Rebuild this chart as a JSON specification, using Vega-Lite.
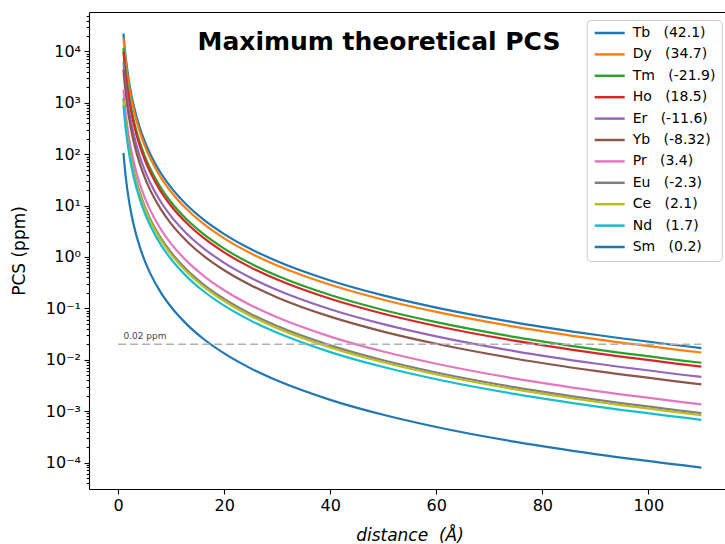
{
"$schema":"https://vega.github.io/schema/vega-lite/v6.json",
"width":636,"height":477,
"autosize":{"type":"none"},
"padding":{"left":89,"top":12,"right":0,"bottom":55},
"background":"white",
"title":{"text":"Maximum theoretical PCS","font":"DejaVu Sans","fontSize":25,"fontWeight":"bold","color":"#000","anchor":"middle","frame":"group","baseline":"alphabetic","offset":0,"dx":-28,"dy":67},
"datasets":{
"labels":[
{"e":"Tb","lab":"Tb\u00a0\u00a0\u00a0(42.1)"},{"e":"Dy","lab":"Dy\u00a0\u00a0\u00a0(34.7)"},{"e":"Tm","lab":"Tm\u00a0\u00a0\u00a0(-21.9)"},{"e":"Ho","lab":"Ho\u00a0\u00a0\u00a0(18.5)"},{"e":"Er","lab":"Er\u00a0\u00a0\u00a0(-11.6)"},{"e":"Yb","lab":"Yb\u00a0\u00a0\u00a0(-8.32)"},{"e":"Pr","lab":"Pr\u00a0\u00a0\u00a0(3.4)"},{"e":"Eu","lab":"Eu\u00a0\u00a0\u00a0(-2.3)"},{"e":"Ce","lab":"Ce\u00a0\u00a0\u00a0(2.1)"},{"e":"Nd","lab":"Nd\u00a0\u00a0\u00a0(1.7)"},{"e":"Sm","lab":"Sm\u00a0\u00a0\u00a0(0.2)"}
],
"pcs":[
{"e":"Tb","d":1,"v":22335},{"e":"Tb","d":1.25,"v":11436},{"e":"Tb","d":1.5,"v":6618},{"e":"Tb","d":2,"v":2792},{"e":"Tb","d":2.5,"v":1429.4},{"e":"Tb","d":3,"v":827.2},{"e":"Tb","d":4,"v":349.0},{"e":"Tb","d":5,"v":178.7},{"e":"Tb","d":6,"v":103.4},{"e":"Tb","d":8,"v":43.62},{"e":"Tb","d":10,"v":22.33},{"e":"Tb","d":13,"v":10.166},{"e":"Tb","d":16,"v":5.453},{"e":"Tb","d":20,"v":2.792},{"e":"Tb","d":25,"v":1.4294},{"e":"Tb","d":30,"v":0.8272},{"e":"Tb","d":40,"v":0.349},{"e":"Tb","d":50,"v":0.1787},{"e":"Tb","d":60,"v":0.1034},{"e":"Tb","d":75,"v":0.05294},{"e":"Tb","d":90,"v":0.03064},{"e":"Tb","d":110,"v":0.01678},
{"e":"Dy","d":1,"v":18409},{"e":"Dy","d":1.25,"v":9425},{"e":"Dy","d":1.5,"v":5454.5},{"e":"Dy","d":2,"v":2301},{"e":"Dy","d":2.5,"v":1178.2},{"e":"Dy","d":3,"v":681.8},{"e":"Dy","d":4,"v":287.6},{"e":"Dy","d":5,"v":147.27},{"e":"Dy","d":6,"v":85.23},{"e":"Dy","d":8,"v":35.95},{"e":"Dy","d":10,"v":18.41},{"e":"Dy","d":13,"v":8.379},{"e":"Dy","d":16,"v":4.494},{"e":"Dy","d":20,"v":2.301},{"e":"Dy","d":25,"v":1.1782},{"e":"Dy","d":30,"v":0.6818},{"e":"Dy","d":40,"v":0.2876},{"e":"Dy","d":50,"v":0.14727},{"e":"Dy","d":60,"v":0.08523},{"e":"Dy","d":75,"v":0.04364},{"e":"Dy","d":90,"v":0.02525},{"e":"Dy","d":110,"v":0.01383},
{"e":"Tm","d":1,"v":11618},{"e":"Tm","d":1.25,"v":5948},{"e":"Tm","d":1.5,"v":3442},{"e":"Tm","d":2,"v":1452.3},{"e":"Tm","d":2.5,"v":743.6},{"e":"Tm","d":3,"v":430.3},{"e":"Tm","d":4,"v":181.5},{"e":"Tm","d":5,"v":92.94},{"e":"Tm","d":6,"v":53.79},{"e":"Tm","d":8,"v":22.69},{"e":"Tm","d":10,"v":11.62},{"e":"Tm","d":13,"v":5.288},{"e":"Tm","d":16,"v":2.836},{"e":"Tm","d":20,"v":1.4523},{"e":"Tm","d":25,"v":0.7436},{"e":"Tm","d":30,"v":0.4303},{"e":"Tm","d":40,"v":0.18153},{"e":"Tm","d":50,"v":0.09294},{"e":"Tm","d":60,"v":0.05379},{"e":"Tm","d":75,"v":0.02754},{"e":"Tm","d":90,"v":0.015937},{"e":"Tm","d":110,"v":0.008729},
{"e":"Ho","d":1,"v":9814.5},{"e":"Ho","d":1.25,"v":5025},{"e":"Ho","d":1.5,"v":2908},{"e":"Ho","d":2,"v":1226.8},{"e":"Ho","d":2.5,"v":628.1},{"e":"Ho","d":3,"v":363.5},{"e":"Ho","d":4,"v":153.35},{"e":"Ho","d":5,"v":78.52},{"e":"Ho","d":6,"v":45.44},{"e":"Ho","d":8,"v":19.169},{"e":"Ho","d":10,"v":9.8145},{"e":"Ho","d":13,"v":4.467},{"e":"Ho","d":16,"v":2.396},{"e":"Ho","d":20,"v":1.2268},{"e":"Ho","d":25,"v":0.6281},{"e":"Ho","d":30,"v":0.3635},{"e":"Ho","d":40,"v":0.15335},{"e":"Ho","d":50,"v":0.07852},{"e":"Ho","d":60,"v":0.04544},{"e":"Ho","d":75,"v":0.02326},{"e":"Ho","d":90,"v":0.013463},{"e":"Ho","d":110,"v":0.007374},
{"e":"Er","d":1,"v":6154},{"e":"Er","d":1.25,"v":3150.8},{"e":"Er","d":1.5,"v":1823.4},{"e":"Er","d":2,"v":769.3},{"e":"Er","d":2.5,"v":393.9},{"e":"Er","d":3,"v":227.9},{"e":"Er","d":4,"v":96.16},{"e":"Er","d":5,"v":49.23},{"e":"Er","d":6,"v":28.49},{"e":"Er","d":8,"v":12.02},{"e":"Er","d":10,"v":6.154},{"e":"Er","d":13,"v":2.801},{"e":"Er","d":16,"v":1.5024},{"e":"Er","d":20,"v":0.7693},{"e":"Er","d":25,"v":0.3939},{"e":"Er","d":30,"v":0.2279},{"e":"Er","d":40,"v":0.09616},{"e":"Er","d":50,"v":0.04923},{"e":"Er","d":60,"v":0.02849},{"e":"Er","d":75,"v":0.014587},{"e":"Er","d":90,"v":0.008442},{"e":"Er","d":110,"v":0.004624},
{"e":"Yb","d":1,"v":4413.9},{"e":"Yb","d":1.25,"v":2259.9},{"e":"Yb","d":1.5,"v":1307.8},{"e":"Yb","d":2,"v":551.7},{"e":"Yb","d":2.5,"v":282.5},{"e":"Yb","d":3,"v":163.5},{"e":"Yb","d":4,"v":68.97},{"e":"Yb","d":5,"v":35.31},{"e":"Yb","d":6,"v":20.43},{"e":"Yb","d":8,"v":8.621},{"e":"Yb","d":10,"v":4.414},{"e":"Yb","d":13,"v":2.009},{"e":"Yb","d":16,"v":1.0776},{"e":"Yb","d":20,"v":0.5517},{"e":"Yb","d":25,"v":0.2825},{"e":"Yb","d":30,"v":0.16348},{"e":"Yb","d":40,"v":0.06897},{"e":"Yb","d":50,"v":0.03531},{"e":"Yb","d":60,"v":0.02043},{"e":"Yb","d":75,"v":0.010463},{"e":"Yb","d":90,"v":0.006055},{"e":"Yb","d":110,"v":0.003316},
{"e":"Pr","d":1,"v":1803.8},{"e":"Pr","d":1.25,"v":923.5},{"e":"Pr","d":1.5,"v":534.5},{"e":"Pr","d":2,"v":225.5},{"e":"Pr","d":2.5,"v":115.44},{"e":"Pr","d":3,"v":66.81},{"e":"Pr","d":4,"v":28.18},{"e":"Pr","d":5,"v":14.43},{"e":"Pr","d":6,"v":8.351},{"e":"Pr","d":8,"v":3.523},{"e":"Pr","d":10,"v":1.8038},{"e":"Pr","d":13,"v":0.821},{"e":"Pr","d":16,"v":0.4404},{"e":"Pr","d":20,"v":0.2255},{"e":"Pr","d":25,"v":0.11544},{"e":"Pr","d":30,"v":0.06681},{"e":"Pr","d":40,"v":0.02818},{"e":"Pr","d":50,"v":0.01443},{"e":"Pr","d":60,"v":0.008351},{"e":"Pr","d":75,"v":0.004276},{"e":"Pr","d":90,"v":0.002474},{"e":"Pr","d":110,"v":0.001355},
{"e":"Eu","d":1,"v":1220.2},{"e":"Eu","d":1.25,"v":624.7},{"e":"Eu","d":1.5,"v":361.5},{"e":"Eu","d":2,"v":152.5},{"e":"Eu","d":2.5,"v":78.09},{"e":"Eu","d":3,"v":45.19},{"e":"Eu","d":4,"v":19.066},{"e":"Eu","d":5,"v":9.762},{"e":"Eu","d":6,"v":5.649},{"e":"Eu","d":8,"v":2.383},{"e":"Eu","d":10,"v":1.2202},{"e":"Eu","d":13,"v":0.5554},{"e":"Eu","d":16,"v":0.2979},{"e":"Eu","d":20,"v":0.15253},{"e":"Eu","d":25,"v":0.07809},{"e":"Eu","d":30,"v":0.04519},{"e":"Eu","d":40,"v":0.019066},{"e":"Eu","d":50,"v":0.009762},{"e":"Eu","d":60,"v":0.005649},{"e":"Eu","d":75,"v":0.002892},{"e":"Eu","d":90,"v":0.001674},{"e":"Eu","d":110,"v":0.0009168},
{"e":"Ce","d":1,"v":1114.1},{"e":"Ce","d":1.25,"v":570.4},{"e":"Ce","d":1.5,"v":330.1},{"e":"Ce","d":2,"v":139.26},{"e":"Ce","d":2.5,"v":71.3},{"e":"Ce","d":3,"v":41.26},{"e":"Ce","d":4,"v":17.408},{"e":"Ce","d":5,"v":8.913},{"e":"Ce","d":6,"v":5.158},{"e":"Ce","d":8,"v":2.176},{"e":"Ce","d":10,"v":1.1141},{"e":"Ce","d":13,"v":0.5071},{"e":"Ce","d":16,"v":0.272},{"e":"Ce","d":20,"v":0.13926},{"e":"Ce","d":25,"v":0.0713},{"e":"Ce","d":30,"v":0.04126},{"e":"Ce","d":40,"v":0.017408},{"e":"Ce","d":50,"v":0.008913},{"e":"Ce","d":60,"v":0.005158},{"e":"Ce","d":75,"v":0.002641},{"e":"Ce","d":90,"v":0.001528},{"e":"Ce","d":110,"v":0.000837},
{"e":"Nd","d":1,"v":901.9},{"e":"Nd","d":1.25,"v":461.8},{"e":"Nd","d":1.5,"v":267.2},{"e":"Nd","d":2,"v":112.74},{"e":"Nd","d":2.5,"v":57.72},{"e":"Nd","d":3,"v":33.4},{"e":"Nd","d":4,"v":14.092},{"e":"Nd","d":5,"v":7.215},{"e":"Nd","d":6,"v":4.175},{"e":"Nd","d":8,"v":1.7615},{"e":"Nd","d":10,"v":0.9019},{"e":"Nd","d":13,"v":0.4105},{"e":"Nd","d":16,"v":0.2202},{"e":"Nd","d":20,"v":0.11274},{"e":"Nd","d":25,"v":0.05772},{"e":"Nd","d":30,"v":0.0334},{"e":"Nd","d":40,"v":0.014092},{"e":"Nd","d":50,"v":0.007215},{"e":"Nd","d":60,"v":0.004175},{"e":"Nd","d":75,"v":0.002138},{"e":"Nd","d":90,"v":0.001237},{"e":"Nd","d":110,"v":0.0006776},
{"e":"Sm","d":1,"v":106.1},{"e":"Sm","d":1.25,"v":54.32},{"e":"Sm","d":1.5,"v":31.44},{"e":"Sm","d":2,"v":13.263},{"e":"Sm","d":2.5,"v":6.79},{"e":"Sm","d":3,"v":3.93},{"e":"Sm","d":4,"v":1.6578},{"e":"Sm","d":5,"v":0.8488},{"e":"Sm","d":6,"v":0.4912},{"e":"Sm","d":8,"v":0.2072},{"e":"Sm","d":10,"v":0.1061},{"e":"Sm","d":13,"v":0.04829},{"e":"Sm","d":16,"v":0.0259},{"e":"Sm","d":20,"v":0.013263},{"e":"Sm","d":25,"v":0.00679},{"e":"Sm","d":30,"v":0.00393},{"e":"Sm","d":40,"v":0.0016578},{"e":"Sm","d":50,"v":0.0008488},{"e":"Sm","d":60,"v":0.0004912},{"e":"Sm","d":75,"v":0.0002515},{"e":"Sm","d":90,"v":0.0001455},{"e":"Sm","d":110,"v":0.0000797}
]
},
"layer":[
{
"data":{"name":"pcs"},
"transform":[{"lookup":"e","from":{"data":{"name":"labels"},"key":"e","fields":["lab"]}}],
"mark":{"type":"line","strokeWidth":2.2,"interpolate":"monotone"},
"encoding":{
"x":{"field":"d","type":"quantitative","scale":{"domain":[-5.5,114.45],"nice":false,"zero":false},
"axis":{"values":[0,20,40,60,80,100],"format":"d","labelFont":"DejaVu Sans","labelFontSize":16,"labelColor":"#000","labelPadding":3.5,"labelFlush":false,"tickSize":5,"tickColor":"#000","tickWidth":1.1,"domainColor":"#000","domainWidth":1.1,"grid":false,
"title":"distance\u00a0\u00a0(Å)","titleFont":"DejaVu Sans","titleFontSize":17,"titleFontStyle":"italic","titleFontWeight":"normal","titleColor":"#000","titleX":320.5,"titleY":51,"titleBaseline":"alphabetic","titleAlign":"center"}},
"y":{"field":"v","type":"quantitative","scale":{"type":"log","domain":[3.05e-5,58600],"nice":false},
"axis":{"values":[4e-5,5e-5,6e-5,7e-5,8e-5,9e-5,1e-4,2e-4,3e-4,4e-4,5e-4,6e-4,7e-4,8e-4,9e-4,1e-3,2e-3,3e-3,4e-3,5e-3,6e-3,7e-3,8e-3,9e-3,0.01,0.02,0.03,0.04,0.05,0.06,0.07,0.08,0.09,0.1,0.2,0.3,0.4,0.5,0.6,0.7,0.8,0.9,1,2,3,4,5,6,7,8,9,10,20,30,40,50,60,70,80,90,100,200,300,400,500,600,700,800,900,1000,2000,3000,4000,5000,6000,7000,8000,9000,10000,20000,30000,40000,50000],
"labelExpr":"abs(log(datum.value)/LN10-round(log(datum.value)/LN10))<0.001 ? '10' + replace(replace(replace(replace(replace(replace(''+round(log(datum.value)/LN10),'-','⁻'),'0','⁰'),'1','¹'),'2','²'),'3','³'),'4','⁴') : ''",
"labelFont":"DejaVu Sans","labelFontSize":16,"labelColor":"#000","labelPadding":3.5,"labelOverlap":false,"labelBound":false,"labelFlush":false,
"tickSize":{"condition":{"test":"abs(log(datum.value)/LN10-round(log(datum.value)/LN10))<0.001","value":5},"value":2.8},
"tickColor":"#000","tickWidth":1.1,"domainColor":"#000","domainWidth":1.1,"grid":false,
"title":"PCS (ppm)","titleFont":"DejaVu Sans","titleFontSize":17,"titleFontWeight":"normal","titleColor":"#000","titleX":-65,"titleY":238.5,"titleAngle":-90,"titleBaseline":"alphabetic","titleAlign":"center"}},
"color":{"field":"lab","type":"nominal",
"scale":{"domain":["Tb\u00a0\u00a0\u00a0(42.1)","Dy\u00a0\u00a0\u00a0(34.7)","Tm\u00a0\u00a0\u00a0(-21.9)","Ho\u00a0\u00a0\u00a0(18.5)","Er\u00a0\u00a0\u00a0(-11.6)","Yb\u00a0\u00a0\u00a0(-8.32)","Pr\u00a0\u00a0\u00a0(3.4)","Eu\u00a0\u00a0\u00a0(-2.3)","Ce\u00a0\u00a0\u00a0(2.1)","Nd\u00a0\u00a0\u00a0(1.7)","Sm\u00a0\u00a0\u00a0(0.2)"],
"range":["#1f77b4","#ff7f0e","#2ca02c","#d62728","#9467bd","#8c564b","#e377c2","#7f7f7f","#bcbd22","#17becf","#1f77b4"]},
"legend":{"orient":"none","legendX":497.7,"legendY":8,"title":null,"symbolType":"M-1,0H5","symbolSize":100,"symbolStrokeWidth":2.5,"labelFont":"DejaVu Sans","labelFontSize":14,"labelColor":"#000","labelOffset":26,"labelLimit":300,"rowPadding":7.4,"padding":6,"fillColor":"rgba(255,255,255,0.85)","strokeColor":"#cccccc","cornerRadius":4}}
}
},
{
"data":{"values":[{"x0":0,"x1":110,"y":0.02}]},
"mark":{"type":"rule","strokeDash":[8,4],"color":"#b0b0b0","strokeWidth":1.3},
"encoding":{
"x":{"field":"x0","type":"quantitative","axis":{"orient":"top","labels":false,"ticks":false,"title":null,"grid":false,"domain":true,"domainColor":"#000","domainWidth":1.1}},
"x2":{"field":"x1"},
"y":{"field":"y","type":"quantitative"}
}
},
{
"data":{"values":[{"x":1,"y":0.02,"t":"0.02 ppm"}]},
"mark":{"type":"text","align":"left","baseline":"alphabetic","dy":-5,"fontSize":9,"font":"DejaVu Sans","color":"#444444"},
"encoding":{
"x":{"field":"x","type":"quantitative","axis":null},
"y":{"field":"y","type":"quantitative"},
"text":{"field":"t"}
}
}
],
"resolve":{"axis":{"x":"independent"}},
"config":{"view":{"stroke":null},"font":"DejaVu Sans"}
}
